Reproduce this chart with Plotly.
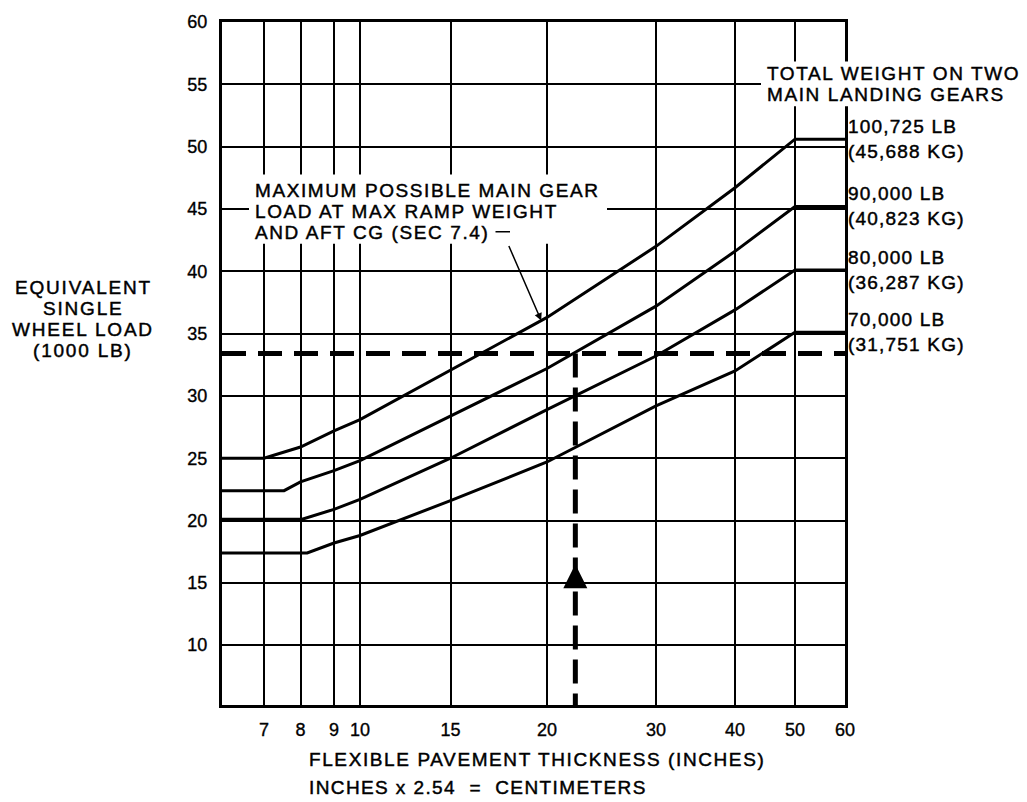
import numpy as np
import plotly.graph_objects as go

FONT = 'Liberation Sans'

# the printed x scale is neither linear nor log: thickness (in) -> axis units
scale_inches = [6, 7, 8, 9, 10, 15, 20, 30, 40, 50, 60]
scale_units = [0, 42, 78.5, 112, 138, 228.5, 325, 434, 513, 573, 623]

x_ticks = [7, 8, 9, 10, 15, 20, 30, 40, 50, 60]
y_ticks = [10, 15, 20, 25, 30, 35, 40, 45, 50, 55, 60]

weights_lb = ['100,725 LB', '90,000 LB', '80,000 LB', '70,000 LB']
weights_kg = ['(45,688 KG)', '(40,823 KG)', '(36,287 KG)', '(31,751 KG)']

# pavement thickness (in) / equivalent single wheel load (1000 lb)
thick_100725 = [6, 7, 8, 9, 10, 15, 20, 30, 40, 50, 60]
load_100725 = [25.0, 25.0, 25.9, 27.2, 28.1, 32.1, 36.3, 42.0, 46.7, 50.6, 50.6]

thick_90000 = [6, 7.55, 8, 9, 10, 15, 20, 30, 40, 50, 60]
load_90000 = [22.4, 22.4, 23.1, 24.0, 24.8, 28.4, 32.2, 37.2, 41.6, 45.2, 45.2]

thick_80000 = [6, 8.05, 9, 10, 15, 20, 30, 40, 50, 60]
load_80000 = [20.1, 20.1, 20.9, 21.7, 25.0, 28.9, 33.2, 36.9, 40.1, 40.1]

thick_70000 = [6, 8.2, 9, 10, 15, 20, 30, 40, 50, 60]
load_70000 = [17.4, 17.4, 18.2, 18.8, 21.6, 24.7, 29.2, 32.0, 35.1, 35.1]

# worked example drawn with dashed lines
example_thickness = 22.6
example_load = 33.4
arrow_load = 16.5
leader_thickness = 19.7

y_min = 5.2

# plot area in page pixels
L, R, T, B = 222, 845, 15, 705


def xs(v):
    return np.interp(v, scale_inches, scale_units)


def px(x):
    return (x - L) / (R - L)


def py(y):
    return (B - y) / (B - T)


def spaced(text, ls):
    # slight stroke to get the heavier look of the printed lettering
    return f'<span style="letter-spacing:{ls}px;stroke:black;stroke-width:0.45px">{text}</span>'


def text_lines(lines, x, y0, step, ls, anchor='left'):
    out = []
    for i, line in enumerate(lines):
        out.append(dict(text=spaced(line, ls), xref='paper', yref='paper',
                        x=px(x), y=py(y0), yshift=-i * step,
                        xanchor=anchor, yanchor='middle', showarrow=False))
    return out


fig = go.Figure()

curves = [(thick_100725, load_100725), (thick_90000, load_90000),
          (thick_80000, load_80000), (thick_70000, load_70000)]
for t, l in curves:
    fig.add_trace(go.Scatter(x=xs(t), y=l, mode='lines',
                             line=dict(color='black', width=3),
                             showlegend=False, hoverinfo='skip'))

# dashed example lines
fig.add_trace(go.Scatter(x=xs([scale_inches[0], scale_inches[-1]]), y=[example_load, example_load],
                         mode='lines', line=dict(color='black', width=5, dash='24px,12px'),
                         showlegend=False, hoverinfo='skip'))
fig.add_trace(go.Scatter(x=xs([example_thickness, example_thickness]), y=[example_load, y_min],
                         mode='lines', line=dict(color='black', width=5, dash='24px,10px'),
                         showlegend=False, hoverinfo='skip'))
fig.add_trace(go.Scatter(x=[xs(example_thickness)], y=[arrow_load], mode='markers',
                         marker=dict(symbol='arrow-up', size=24, color='black'),
                         showlegend=False, hoverinfo='skip'))

annotations = []
annotations += text_lines(['EQUIVALENT', 'SINGLE', 'WHEEL LOAD', '(1000 LB)'], 83, 283, 21, 1.8, 'center')
annotations += text_lines(['FLEXIBLE PAVEMENT THICKNESS (INCHES)'], 307, 760, 0, 1.6)
annotations += text_lines(['INCHES x 2.54  =  CENTIMETERS'], 307, 788, 0, 1.4)
annotations += text_lines(['MAXIMUM POSSIBLE MAIN GEAR', 'LOAD AT MAX RAMP WEIGHT',
                           'AND AFT CG (SEC 7.4)'], 253, 185, 21, 1.6)
annotations += text_lines(['TOTAL WEIGHT ON TWO', 'MAIN LANDING GEARS'], 765, 67, 21, 1.6)

for (t, l), lb, kg in zip(curves, weights_lb, weights_kg):
    annotations.append(dict(text=spaced(lb, 1.2) + '<br>' + spaced(kg, 1.2),
                            xref='paper', yref='y', x=1, y=l[-1], xshift=1,
                            xanchor='left', yanchor='middle', align='left', showarrow=False))

# leader from the callout to the top curve
lx = xs(leader_thickness)
ly = float(np.interp(lx, xs(thick_100725), load_100725))
annotations.append(dict(text='', x=lx, y=ly, xref='x', yref='y', showarrow=True,
                        ax=-33, ay=-76, arrowhead=2, arrowsize=1, arrowwidth=1.5,
                        arrowcolor='black'))
annotations.append(dict(text='', xref='paper', yref='paper', x=px(510), y=py(227),
                        showarrow=True, ax=-16, ay=0, arrowhead=0, arrowwidth=1.5,
                        arrowcolor='black'))

# white boxes that break the grid behind the callout texts
shapes = [
    dict(type='rect', xref='paper', yref='paper', x0=px(249), x1=px(607), y0=py(239), y1=py(169),
         fillcolor='white', line=dict(width=0), layer='above'),
    dict(type='rect', xref='paper', yref='paper', x0=px(761), x1=px(1027), y0=py(100), y1=py(55),
         fillcolor='white', line=dict(width=0), layer='above'),
]

tick_style = 'stroke:black;stroke-width:0.35px'

fig.update_layout(
    width=1027, height=802,
    margin=dict(l=L, r=1027 - R, t=T, b=802 - B),
    plot_bgcolor='white', paper_bgcolor='white',
    font=dict(family=FONT, size=19, color='black'),
    annotations=annotations,
    shapes=shapes,
    xaxis=dict(range=[scale_units[0], scale_units[-1]],
               tickvals=xs(x_ticks),
               ticktext=[f'<span style="{tick_style}">{t}</span>' for t in x_ticks],
               showgrid=True, gridcolor='black', gridwidth=2,
               showline=True, linecolor='black', linewidth=3, mirror=True,
               zeroline=False, ticks='', ticklabelstandoff=6,
               tickfont=dict(family=FONT, size=18, color='black')),
    yaxis=dict(range=[y_min, 60], tickvals=y_ticks,
               ticktext=[f'<span style="{tick_style}">{t}</span>' for t in y_ticks],
               showgrid=True, gridcolor='black', gridwidth=2,
               showline=True, linecolor='black', linewidth=3, mirror=True,
               zeroline=False, ticks='', ticklabelstandoff=8,
               tickfont=dict(family=FONT, size=18, color='black')),
)

fig.write_html("out.html", config={'displayModeBar': False},
               post_script="document.body.style.margin='0px';")
